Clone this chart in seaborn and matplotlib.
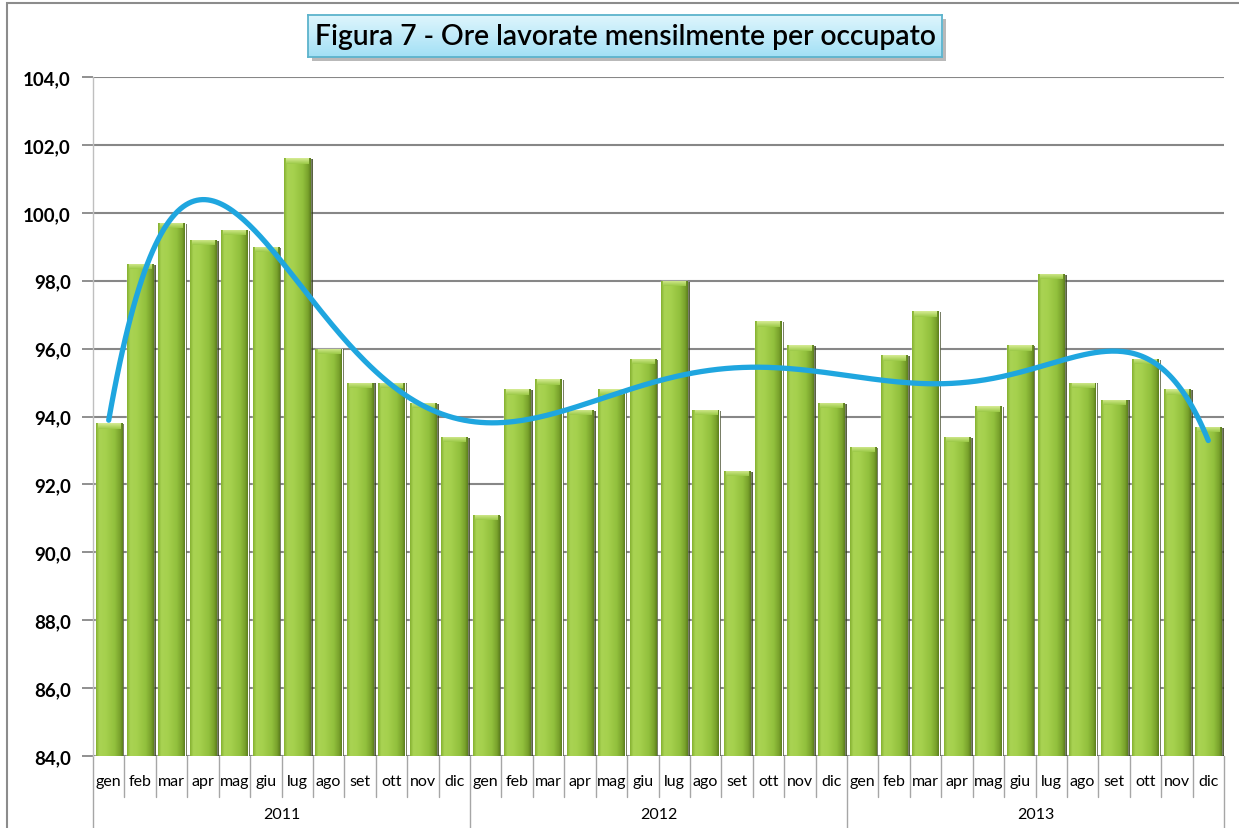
import numpy as np
import pandas as pd
import matplotlib
matplotlib.use("Agg")
import matplotlib.pyplot as plt
import matplotlib.patheffects as pe
from matplotlib.patches import Rectangle
from matplotlib.colors import LinearSegmentedColormap
import seaborn as sns

# ---------------- data ----------------
mesi = ["gen", "feb", "mar", "apr", "mag", "giu", "lug", "ago", "set", "ott", "nov", "dic"]
anni = ["2011", "2012", "2013"]
ore_2011 = [93.8, 98.5, 99.7, 99.2, 99.5, 99.0, 101.6, 96.0, 95.0, 95.0, 94.4, 93.4]
ore_2012 = [91.1, 94.8, 95.1, 94.2, 94.8, 95.7, 98.0, 94.2, 92.4, 96.8, 96.1, 94.4]
ore_2013 = [93.1, 95.8, 97.1, 93.4, 94.3, 96.1, 98.2, 95.0, 94.5, 95.7, 94.8, 93.7]
y_ticks = [84, 86, 88, 90, 92, 94, 96, 98, 100, 102, 104]
titolo = "Figura 7 - Ore lavorate mensilmente per occupato"

valori = ore_2011 + ore_2012 + ore_2013
df = pd.DataFrame({
    "idx": list(range(len(valori))),
    "mese": mesi * 3,
    "anno": [a for a in anni for _ in mesi],
    "ore": valori,
})

# ---------------- figure ----------------
sns.set_theme(style="white")
plt.rcParams["font.family"] = ["Lato", "DejaVu Sans"]

W, H = 1239, 829
fig = plt.figure(figsize=(W / 100, H / 100), dpi=100)
fig.patch.set_facecolor("white")

L, R, T, B = 93, 1224, 78, 757
ax = fig.add_axes([L / W, 1 - B / H, (R - L) / W, (B - T) / H])
ax.set_facecolor("none")

sns.barplot(data=df, x="idx", y="ore", ax=ax, color="#96c43e", width=0.84,
            saturation=1, errorbar=None, zorder=3)

ax.set_ylim(84, 104)
ax.set_xlim(-0.5, len(valori) - 0.5)
ax.set_yticks(y_ticks)
ax.set_yticklabels([f"{v:.1f}".replace(".", ",") for v in y_ticks],
                   fontsize=13.5, fontweight="bold", color="black")
ax.tick_params(axis="y", which="both", left=True, length=8, width=1.3,
               color="#878787", pad=8)
ax.set_xticks([])
ax.set_xlabel("")
ax.set_ylabel("")
for s in ["top", "right", "bottom"]:
    ax.spines[s].set_visible(False)
ax.spines["left"].set_color("#bfbfbf")
ax.spines["left"].set_linewidth(1.0)
ax.yaxis.grid(True, color="#878787", linewidth=1.5, zorder=0)
ax.set_axisbelow(True)

# bevelled gradient bars
cmap = LinearSegmentedColormap.from_list(
    "bar", [(0.0, "#86b132"), (0.12, "#a9d353"), (0.35, "#a6d14e"),
            (0.7, "#92c03d"), (0.9, "#79a22c"), (1.0, "#5d7f1e")])
grad = np.linspace(0, 1, 64).reshape(1, -1)
capmap = LinearSegmentedColormap.from_list("cap", ["#9cc947", "#d6ec94"])
capgrad = np.linspace(0, 1, 16).reshape(-1, 1)
for p in ax.patches:
    x0, w, h = p.get_x(), p.get_width(), p.get_height()
    p.set_path_effects([pe.SimplePatchShadow(offset=(1.8, -0.6), shadow_rgbFace="#2f3a14",
                                             alpha=0.8), pe.Normal()])
    im = ax.imshow(grad, extent=[x0, x0 + w, 84, h], aspect="auto", cmap=cmap,
                   origin="lower", zorder=3.5, interpolation="bilinear")
    im.set_clip_path(p)
    cap = ax.imshow(capgrad, extent=[x0 + 0.08 * w, x0 + 0.92 * w, h - 0.16, h], aspect="auto",
                    cmap=capmap, origin="lower", zorder=3.6, interpolation="bilinear")
    cap.set_clip_path(p)

# polynomial trend line (order 6, as computed from the data)
xs = np.array(df["idx"], dtype=float)
coef = np.polyfit(xs, np.array(valori), 6)
xf = np.linspace(0, len(valori) - 1, 400)
sns.lineplot(x=xf, y=np.polyval(coef, xf), ax=ax, color="#1fa6df", linewidth=3.8,
             zorder=5, legend=False)
ax.set_ylim(84, 104)
ax.set_xlim(-0.5, len(valori) - 0.5)

# two-level category axis
trans = ax.get_xaxis_transform()
px = 1.0 / (B - T)
for i, m in enumerate(df["mese"]):
    ax.text(i, -(782 - B) * px, m, transform=trans, ha="center", va="center",
            fontsize=11.5, color="black", clip_on=False)
for i in range(len(valori) + 1):
    long_line = (i % 12 == 0)
    y_end = -(H - B) * px if long_line else -(798 - B) * px
    ax.plot([i - 0.5, i - 0.5], [0, y_end], transform=trans, color="#a6a6a6",
            linewidth=1.0, clip_on=False, zorder=2)
for k, a in enumerate(anni):
    ax.text(k * 12 + 5.5, -(815 - B) * px, a, transform=trans, ha="center", va="center",
            fontsize=11.5, color="black", clip_on=False)

# outer chart border (cropped at right/bottom)
fig.patches.append(Rectangle((7 / W, -0.1), 1.2, 1 - 4 / H + 0.1, transform=fig.transFigure,
                             fill=False, edgecolor="#8c8c8c", linewidth=1.5, zorder=0))

# title box
bx0, bx1, by0, by1 = 308, 942, 16, 58
shadow_ax = fig.add_axes([(bx0 + 4) / W, 1 - (by1 + 4) / H, (bx1 - bx0) / W, (by1 - by0) / H])
shadow_ax.set_facecolor("#b9b9b9")
shadow_ax.set_xticks([]); shadow_ax.set_yticks([])
for s in shadow_ax.spines.values():
    s.set_visible(False)
tax = fig.add_axes([bx0 / W, 1 - by1 / H, (bx1 - bx0) / W, (by1 - by0) / H])
tmap = LinearSegmentedColormap.from_list("tb", ["#a3e0f5", "#dff6fd"])
tax.imshow(np.linspace(0, 1, 32).reshape(-1, 1), extent=[0, 1, 0, 1], aspect="auto",
           cmap=tmap, origin="lower")
tax.set_xlim(0, 1); tax.set_ylim(0, 1)
tax.set_xticks([]); tax.set_yticks([])
for s in tax.spines.values():
    s.set_color("#5cb3cc")
    s.set_linewidth(1.3)
tax.text(0.5, 0.5, titolo, ha="center", va="center", fontsize=20.3, color="black",
         fontweight="semibold", transform=tax.transAxes)

fig.savefig("out.png", dpi=100, facecolor="white")
